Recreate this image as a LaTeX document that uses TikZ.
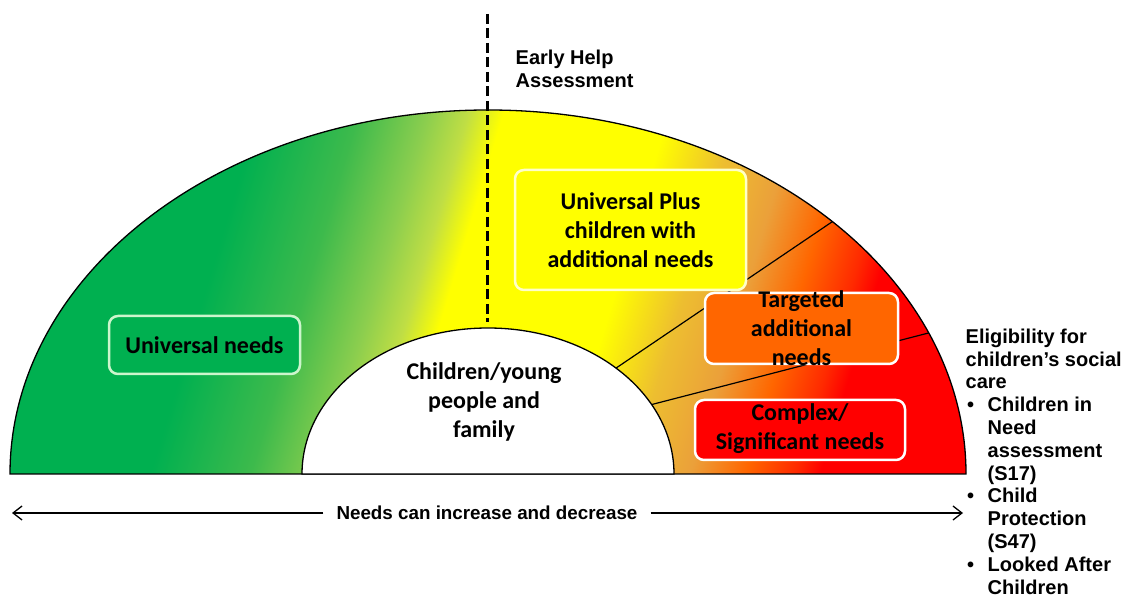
\documentclass[tikz,border=0pt]{standalone}
\usepackage{fontspec}
\setmainfont{Carlito}
\newfontfamily\arialf{Liberation Sans}
\usetikzlibrary{arrows.meta,calc}

\definecolor{gA}{HTML}{00B050}
\definecolor{gB}{HTML}{3DBA4C}
\definecolor{gC}{HTML}{8CCE4E}
\definecolor{gD}{HTML}{C0DE44}
\definecolor{yA}{HTML}{FFFF00}
\definecolor{oA}{HTML}{EDBE30}
\definecolor{oB}{HTML}{EBA03A}
\definecolor{oC}{HTML}{FF6600}
\definecolor{rA}{HTML}{FF2A00}
\definecolor{rB}{HTML}{FF0000}
\definecolor{uBorder}{HTML}{CCF5CC}
\definecolor{pBorder}{HTML}{FFFFC8}

\pgfdeclarehorizontalshading{needsgrad}{100bp}{color(0bp)=(gA); color(25bp)=(gA); color(39.0625bp)=(gA); color(42.1875bp)=(gB); color(44.375bp)=(gC); color(45.625bp)=(gD); color(46.71875bp)=(yA); color(51.875bp)=(yA); color(54.0625bp)=(oA); color(55.9375bp)=(oB); color(57.65625bp)=(oC); color(59.21875bp)=(rA); color(60bp)=(rB); color(100bp)=(rB)}

\begin{document}
\begin{tikzpicture}[x=1pt,y=1pt,
  boxbase/.style={rounded corners=9pt, line width=2.5pt, inner sep=0pt},
  boxtext/.style={font=\fontsize{24}{29}\selectfont\bfseries, align=center, text=black, inner sep=0pt},
  armtext/.style={font=\arialf\fontsize{20}{22.8}\selectfont\bfseries, align=left, inner sep=0pt},
  divider/.style={line width=1.2pt},
  outline/.style={line width=1.3pt},
  dashline/.style={line width=3pt, dash pattern=on 10pt off 4.5pt},
  arrowline/.style={line width=1.3pt, -{Straight Barb[length=9pt,width=14pt]}}]
\useasboundingbox (0,0) rectangle (1131,599);
\coordinate (c) at (488,125);

% gradient band
\begin{scope}
  \clip (10,125) arc[start angle=180,end angle=0,x radius=478,y radius=364] -- cycle;
  \begin{scope}[transform canvas={yshift=125pt, xslant=0.3, yshift=-125pt}]
    \shade[shading=needsgrad] (-300,110) rectangle (1300,500);
  \end{scope}
\end{scope}
\draw[outline] (10,125) arc[start angle=180,end angle=0,x radius=478,y radius=364] -- cycle;

% dividers
\coordinate (d1a) at ($(c)+(46.5:186 and 146)$);
\coordinate (d1b) at ($(c)+(43.9:478 and 364)$);
\coordinate (d2a) at ($(c)+(28.4:186 and 146)$);
\coordinate (d2b) at ($(c)+(22.8:478 and 364)$);
\draw[divider] (d1a) -- (d1b);
\draw[divider] (d2a) -- (d2b);

% inner half ellipse
\draw[outline, fill=white] (302,125) arc[start angle=180,end angle=0,x radius=186,y radius=146] -- cycle;
\node[boxtext] (core) at (484,197) {Children/young\\people and\\family};

% boxes
\node[boxbase, draw=uBorder, fill=gA, minimum width=191pt, minimum height=58pt] (univ) at (204.5,254) {};
\node[boxtext] (univT) at (univ) {Universal needs};
\node[boxbase, draw=pBorder, fill=yA, minimum width=231pt, minimum height=120pt] (plus) at (630.5,369) {};
\node[boxtext] (plusT) at (plus) {Universal Plus\\children with\\additional needs};
\node[boxbase, draw=white, fill=oC, minimum width=193pt, minimum height=71pt] (targ) at (801.5,270.5) {};
\node[boxtext] (targT) at (801.5,270.5) {Targeted\\additional\\needs};
\node[boxbase, draw=white, fill=rB, minimum width=210pt, minimum height=60pt] (comp) at (800,169) {};
\node[boxtext] (compT) at (800,170) {Complex/\\Significant needs};

% dashed Early Help line
\coordinate (dT) at (487,585);
\coordinate (dB) at (487,277);
\draw[dashline] (dT) -- (dB);
\node[armtext, anchor=west] (eha) at (515.5,530) {\fontsize{20}{24}\selectfont Early Help\\Assessment};

% eligibility
\node[armtext, anchor=west] (elig) at (965.5,137.5) {Eligibility for\\children’s social\\care\\
\makebox[22pt][l]{\hspace*{1.5pt}•}Children in\\
\hspace*{22pt}Need\\
\hspace*{22pt}assessment\\
\hspace*{22pt}(S17)\\
\makebox[22pt][l]{\hspace*{1.5pt}•}Child\\
\hspace*{22pt}Protection\\
\hspace*{22pt}(S47)\\
\makebox[22pt][l]{\hspace*{1.5pt}•}Looked After\\
\hspace*{22pt}Children};

% bottom arrow
\node[font=\arialf\fontsize{18.8}{22}\selectfont\bfseries, inner xsep=13pt, inner ysep=0pt] (needs) at (487,86) {Needs can increase and decrease};
\coordinate (aL) at (12,86);
\coordinate (aR) at (963,86);
\draw[arrowline] (needs.west) -- (aL);
\draw[arrowline] (needs.east) -- (aR);
\end{tikzpicture}
\end{document}
